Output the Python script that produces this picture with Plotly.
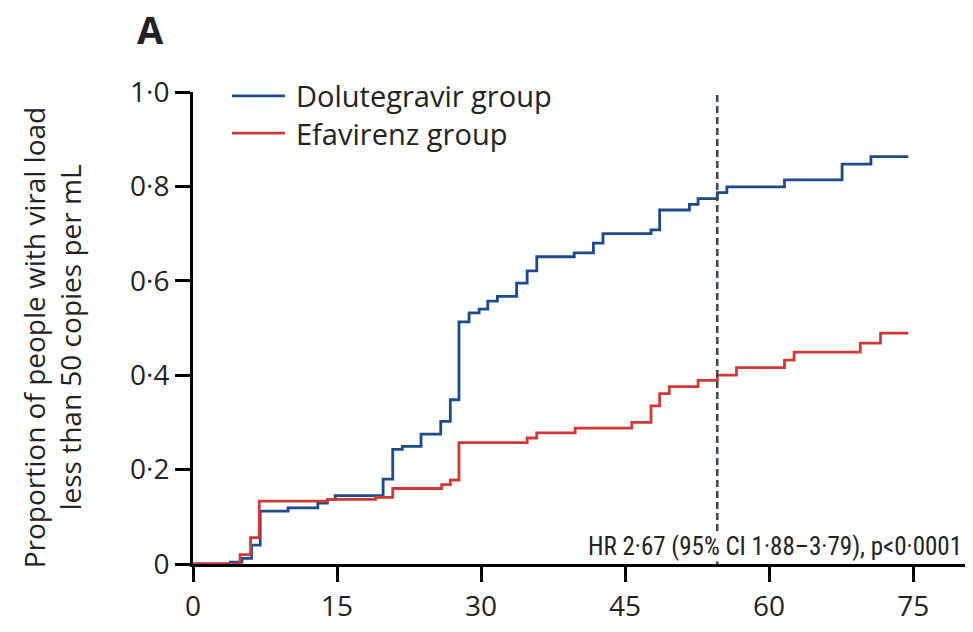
import plotly.graph_objects as go

# ---- data ----
dtg_t = [0, 3.9, 5.1, 6.1, 7.0, 9.9, 13.0, 14.0, 14.8, 19.8, 20.8, 21.8, 23.75, 25.8, 26.8, 27.7,
         28.75, 29.8, 30.7, 31.7, 33.7, 34.8, 35.8, 39.7, 41.7, 42.7, 47.7, 48.6, 51.7, 52.6,
         54.6, 55.6, 61.6, 67.6, 70.6, 74.5]
dtg_p = [0, 0.004, 0.012, 0.04, 0.112, 0.119, 0.129, 0.137, 0.145, 0.18, 0.243, 0.249, 0.275, 0.302,
         0.348, 0.513, 0.532, 0.54, 0.557, 0.567, 0.595, 0.621, 0.651, 0.659, 0.68, 0.70, 0.708,
         0.75, 0.762, 0.774, 0.787, 0.799, 0.814, 0.847, 0.863, 0.863]

efv_t = [0, 4.9, 6.0, 6.9, 14.0, 19.0, 20.8, 25.9, 26.8, 27.7, 34.8, 35.8, 39.8, 45.7, 47.7, 48.6,
         49.6, 52.6, 54.6, 56.6, 61.6, 62.6, 69.5, 71.6, 74.5]
efv_p = [0, 0.02, 0.056, 0.133, 0.137, 0.141, 0.16, 0.168, 0.178, 0.257, 0.267, 0.278, 0.288, 0.30,
         0.335, 0.361, 0.376, 0.389, 0.40, 0.416, 0.432, 0.449, 0.468, 0.489, 0.489]

series_names = ["Dolutegravir group", "Efavirenz group"]
series_colors = ["#1d4a88", "#d03a36"]

x_ticks = [0, 15, 30, 45, 60, 75]
x_ticklabels = ["0", "15", "30", "45", "60", "75"]
y_ticks = [0, 0.2, 0.4, 0.6, 0.8, 1.0]
y_ticklabels = ["0", "0·2", "0·4", "0·6", "0·8", "1·0"]
ref_time = 54.6
hr_text = "HR 2·67 (95% CI 1·88–3·79), p<0·0001"
y_title = "Proportion of people with viral load<br>less than 50 copies per mL"
panel_label = "A"

FONT = "Open Sans"
TXT = "#222222"

fig = go.Figure()
for t, p, name, col in [(dtg_t, dtg_p, series_names[0], series_colors[0]),
                        (efv_t, efv_p, series_names[1], series_colors[1])]:
    fig.add_trace(go.Scatter(x=t, y=p, mode="lines", line=dict(shape="hv", color=col, width=2.8),
                             name=name, showlegend=False, cliponaxis=False))

# reference vertical dashed line
fig.add_trace(go.Scatter(x=[ref_time, ref_time], y=[0, 1.005], mode="lines",
                         line=dict(color="#3a4848", width=2.5, dash="7px,4px"),
                         showlegend=False, cliponaxis=False))

fig.update_layout(
    width=973, height=632,
    margin=dict(l=193, r=8, t=92, b=57),
    paper_bgcolor="white", plot_bgcolor="white",
    font=dict(family=FONT, color=TXT),
    xaxis=dict(range=[0, 80.4], showgrid=False, zeroline=False, showline=True, linecolor="black",
               linewidth=3, ticks="outside", ticklen=15, tickwidth=3, tickcolor="black",
               tickvals=x_ticks, ticktext=x_ticklabels, tickfont=dict(size=28, family=FONT, color=TXT)),
    yaxis=dict(range=[0, 1.0], showgrid=False, zeroline=False, showline=True, linecolor="black",
               linewidth=3, ticks="outside", ticklen=15, tickwidth=3, tickcolor="black",
               tickvals=y_ticks, ticktext=y_ticklabels, tickfont=dict(size=28, family=FONT, color=TXT)),
)

# manual legend
leg_y = [0.992, 0.913]
for i in range(2):
    fig.add_shape(type="line", xref="paper", yref="paper",
                  x0=(232 - 193) / 772, x1=(285 - 193) / 772, y0=leg_y[i], y1=leg_y[i],
                  line=dict(color=series_colors[i], width=2.8))
    fig.add_annotation(xref="paper", yref="paper", x=(294 - 193) / 772, y=leg_y[i],
                       xanchor="left", yanchor="middle", text=series_names[i], showarrow=False,
                       font=dict(size=29, family=FONT, color=TXT))

fig.add_annotation(xref="paper", yref="paper", x=(963 - 193) / 772, y=(575 - 557) / 483,
                   xanchor="right", yanchor="middle", text=hr_text, showarrow=False,
                   bgcolor="white", borderpad=0,
                   font=dict(size=25, family="Liberation Sans Narrow, Roboto Condensed, Lato", color=TXT))

fig.add_annotation(xref="paper", yref="paper", x=(52 - 193) / 772, y=(575 - 343) / 483,
                   xanchor="center", yanchor="middle", text=y_title, showarrow=False, textangle=-90,
                   font=dict(size=28, family=FONT, color=TXT))

fig.add_annotation(xref="paper", yref="paper", x=(150 - 193) / 772, y=(575 - 28) / 483,
                   xanchor="center", yanchor="middle", text="<b>" + panel_label + "</b>", showarrow=False,
                   font=dict(size=38, family=FONT, color=TXT))

fig.write_html("out.html")
